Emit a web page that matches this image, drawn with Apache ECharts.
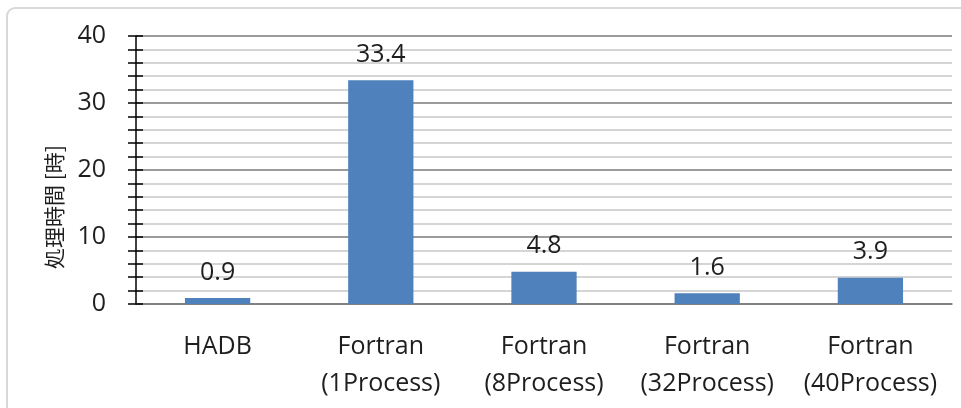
<!DOCTYPE html>
<html>
<head>
<meta charset="utf-8">
<script src="https://cdn.jsdelivr.net/npm/echarts@6/dist/echarts.min.js"></script>
<style>
html,body{margin:0;padding:0;background:#fff;}
#c{width:961px;height:408px;}
</style>
</head>
<body>
<div id="c"></div>
<script>
const categories = ['HADB', 'Fortran\n(1Process)', 'Fortran\n(8Process)', 'Fortran\n(32Process)', 'Fortran\n(40Process)'];
const values = [0.9, 33.4, 4.8, 1.6, 3.9];
const yTicks = [0, 10, 20, 30, 40];
const yName = '処理時間 [時]';

const FONT = '"Open Sans", "Noto Sans", sans-serif';
const TXT = '#1e1e1e';
const chart = echarts.init(document.getElementById('c'));
const yMin = yTicks[0], yMax = yTicks[yTicks.length - 1], yInt = yTicks[1] - yTicks[0];
chart.setOption({
  animation: false,
  grid: { left: 136, right: 9, top: 36, bottom: 104 },
  graphic: [
    { type: 'rect', shape: { x: 7, y: 8, width: 1000, height: 500, r: 8 },
      style: { fill: 'none', stroke: '#d9d9d9', lineWidth: 2 }, z: -10 },
    { type: 'text', x: 54, y: 207, rotation: Math.PI / 2,
      style: { text: yName, fontSize: 21, fill: TXT, align: 'center', verticalAlign: 'middle',
               fontFamily: '"Noto Sans CJK JP", sans-serif' } }
  ],
  xAxis: {
    type: 'category', data: categories,
    axisLine: { show: true, lineStyle: { color: '#7a7a7a', width: 1.5 } },
    axisTick: { show: false },
    axisLabel: { color: TXT, fontSize: 25, lineHeight: 37, margin: 24, fontFamily: FONT, interval: 0 }
  },
  yAxis: [
    {
      type: 'value', min: yMin, max: yMax, interval: yInt,
      axisLine: { show: true, lineStyle: { color: '#000', width: 1.5 } },
      axisTick: { show: true, length: 8, inside: false, lineStyle: { color: '#000', width: 1.5 } },
      minorTick: { show: true, splitNumber: 5, length: 8, lineStyle: { color: '#000', width: 1.5 } },
      axisLabel: { color: TXT, fontSize: 25, margin: 30, fontFamily: FONT },
      splitLine: { show: true, lineStyle: { color: '#7a7a7a', width: 1.5 } },
      minorSplitLine: { show: true, lineStyle: { color: '#c8c8c8', width: 1.5 } }
    },
    {
      type: 'value', min: yMin, max: yMax, interval: yInt, position: 'left',
      axisLine: { show: false },
      axisTick: { show: true, length: 7, inside: true, lineStyle: { color: '#000', width: 1.5 } },
      minorTick: { show: true, splitNumber: 5, length: 7, lineStyle: { color: '#000', width: 1.5 } },
      axisLabel: { show: false },
      splitLine: { show: false }
    }
  ],
  series: [{
    type: 'bar', data: values, yAxisIndex: 0, barWidth: '40%',
    itemStyle: { color: '#4F81BD' },
    label: { show: true, position: 'top', distance: 13, color: TXT, fontSize: 25, fontFamily: FONT }
  }]
});
</script>
</body>
</html>
